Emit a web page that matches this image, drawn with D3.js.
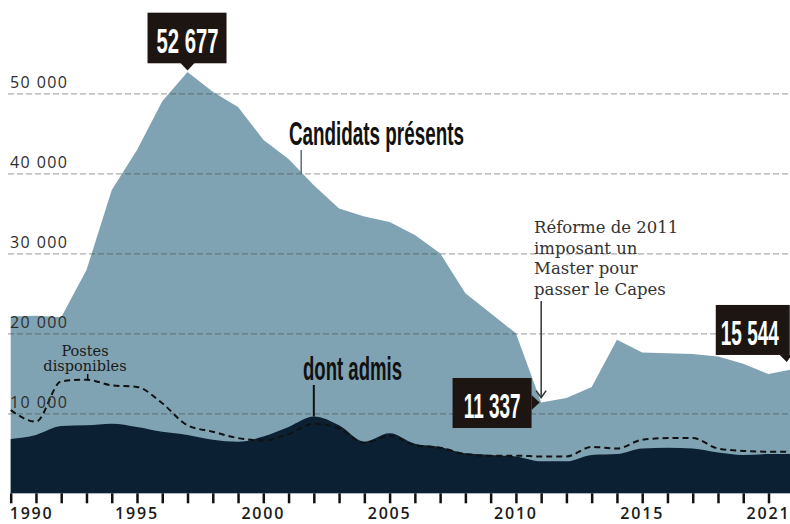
<!DOCTYPE html>
<html>
<head>
<meta charset="utf-8">
<script src="https://cdn.jsdelivr.net/npm/d3@7"></script>
<style>
  body { margin: 0; background: #fff; }
  svg { display: block; }
  .cond { font-family: "Liberation Sans Narrow", "Arial Narrow", sans-serif; font-weight: bold; }
  .serif { font-family: "DejaVu Serif", serif; }
  .sans { font-family: "Open Sans", sans-serif; }
</style>
</head>
<body>
<svg width="790" height="524"></svg>
<script>
const years = [1990, 1991, 1992, 1993, 1994, 1995, 1996, 1997, 1998, 1999,
  2000, 2001, 2002, 2003, 2004, 2005, 2006, 2007, 2008, 2009,
  2010, 2011, 2012, 2013, 2014, 2015, 2016, 2017, 2018, 2019,
  2020, 2021];

// candidats présents
const candidats = [22100, 22200, 22000, 27900, 37900, 42900, 49000, 52677, 50200, 48300,
  44200, 41800, 38500, 35600, 34600, 33900, 32300, 30000, 25000, 22500,
  20000, 11337, 11900, 13300, 19200, 17600, 17500, 17400, 17100, 16200,
  14900, 15544];

// dont admis
const admis = [6800, 7300, 8400, 8500, 8700, 8300, 7700, 7300, 6700, 6450,
  7100, 8300, 9600, 8500, 6450, 7500, 6200, 5800, 5000, 4800,
  4600, 4000, 4000, 4800, 4900, 5600, 5700, 5600, 5100, 4800,
  4900, 4900];

// postes disponibles
const postes = [10400, 8950, 14000, 14200, 13500, 13300, 11250, 8500, 7700, 6900,
  6600, 7400, 8700, 8100, 6300, 7200, 6000, 5700, 4900, 4700,
  4700, 4600, 4600, 5800, 5600, 6700, 6900, 6900, 5600, 5300,
  5200, 5200];

const gridValues = [10000, 20000, 30000, 40000, 50000];
const labelYears = [1990, 1995, 2000, 2005, 2010, 2015, 2020];
const labelTexts = ["1990", "1995", "2000", "2005", "2010", "2015", "2021"];

const svg = d3.select("svg");

const x = d3.scaleLinear().domain([1990, 2020]).range([10.7, 768.5]);
const y = d3.scaleLinear().domain([0, 50000]).range([493.3, 93.3]);

const fr = d3.formatLocale({ decimal: ",", thousands: " ", grouping: [3], currency: ["", " €"] });
const numFormat = fr.format(",");

const area = d3.area()
  .x((d, i) => x(years[i]))
  .y0(y(0))
  .y1(d => y(d));

svg.append("path")
  .datum(candidats)
  .attr("fill", "#80a3b4")
  .attr("d", area.curve(d3.curveLinear));

svg.append("path")
  .datum(admis)
  .attr("fill", "#0b2133")
  .attr("d", area.curve(d3.curveMonotoneX));

const line = d3.line()
  .x((d, i) => x(years[i]))
  .y(d => y(d))
  .curve(d3.curveMonotoneX);

svg.append("path")
  .datum(postes)
  .attr("fill", "none")
  .attr("stroke", "#111")
  .attr("stroke-width", 2)
  .attr("stroke-dasharray", "6,4")
  .attr("d", line);

// gridlines
const grid = svg.append("g")
  .attr("transform", "translate(8,0)")
  .call(d3.axisRight(y).tickValues(gridValues).tickSize(782).tickFormat(""));
grid.select(".domain").remove();
grid.selectAll("line")
  .attr("stroke", "#444")
  .attr("stroke-opacity", 0.45)
  .attr("stroke-width", 1.2)
  .attr("stroke-dasharray", "6,3");

// y labels
svg.append("g")
  .selectAll("text")
  .data(gridValues)
  .enter()
  .append("text")
  .attr("class", "sans")
  .attr("x", 10)
  .attr("y", d => y(d) - 5)
  .attr("font-size", 16)
  .attr("letter-spacing", 1.4)
  .attr("fill", "#2e2e2e")
  .text(d => numFormat(d));

// x ticks
const xAxis = svg.append("g")
  .attr("transform", "translate(0," + y(0) + ")")
  .call(d3.axisBottom(x).tickValues(years).tickSize(10).tickFormat(""));
xAxis.select(".domain").remove();
xAxis.selectAll("line")
  .attr("stroke", "#111")
  .attr("stroke-width", 2.5);

svg.append("g")
  .selectAll("text")
  .data(labelYears)
  .enter()
  .append("text")
  .attr("class", "sans")
  .attr("x", (d, i) => (i === 0 ? x(d) - 1 : x(d)))
  .attr("y", 519)
  .attr("text-anchor", (d, i) => (i === 0 ? "start" : "middle"))
  .attr("font-size", 16)
  .attr("font-weight", 600)
  .attr("letter-spacing", 1.8)
  .attr("fill", "#1a1a1a")
  .text((d, i) => labelTexts[i]);

// condensed text: squeeze horizontally to a given width
function squeezed(parent, str, cx, baseline, size, len, anchor, color) {
  const t = parent.append("text")
    .attr("class", "cond")
    .attr("text-anchor", anchor)
    .attr("font-size", size)
    .attr("fill", color)
    .text(str);
  const w = t.node().getComputedTextLength();
  t.attr("transform", "translate(" + cx + "," + baseline + ") scale(" + (len / w) + ",1)");
  return t;
}

// value boxes
function valueBox(year, value, box, tri, textX, textY, len) {
  const px = x(year), py = y(value);
  const g = svg.append("g");
  g.append("rect")
    .attr("x", px + box[0])
    .attr("y", py + box[1])
    .attr("width", box[2])
    .attr("height", box[3])
    .attr("fill", "#1c1512");
  g.append("path")
    .attr("d", "M" + tri.map(p => (px + p[0]) + "," + (py + p[1])).join("L") + "Z")
    .attr("fill", "#1c1512");
  squeezed(g, numFormat(value), px + textX, py + textY, 36, len, "middle", "#fff");
}

valueBox(1997, 52677, [-40, -59.2, 79, 50.6], [[-7, -8.8], [7, -8.8], [0, -1.5]], 0, -18.6, 62);
valueBox(2011, 11337, [-88.6, -24.6, 79, 50], [[-9.6, -7.5], [-9.6, 7.5], [-1.5, 0]], -49, 15.7, 57);
valueBox(2021, 15544, [-78, -64, 74, 50], [[-14, -14], [-2, -14], [-7, -7]], -44, -24, 58);

// series labels
squeezed(svg, "Candidats présents", 289, 145, 33, 175, "start", "#111");

svg.append("line")
  .attr("x1", x(2001.5)).attr("x2", x(2001.5))
  .attr("y1", 150).attr("y2", y(40000))
  .attr("stroke", "#4f6f80")
  .attr("stroke-width", 1.5);

squeezed(svg, "dont admis", 303, 380, 33, 99, "start", "#111");

svg.append("line")
  .attr("x1", x(2002)).attr("x2", x(2002))
  .attr("y1", 385).attr("y2", y(9600))
  .attr("stroke", "#111")
  .attr("stroke-width", 2);

const postesLabel = svg.append("text")
  .attr("class", "serif")
  .attr("x", 85)
  .attr("text-anchor", "middle")
  .attr("font-size", 14.5)
  .attr("fill", "#1a1a1a");
postesLabel.append("tspan").attr("x", 85).attr("y", 356).text("Postes");
postesLabel.append("tspan").attr("x", 85).attr("y", 371).text("disponibles");

svg.append("line")
  .attr("x1", 87.7).attr("x2", 87.7)
  .attr("y1", 374).attr("y2", y(14200))
  .attr("stroke", "#111")
  .attr("stroke-width", 1.5);

// reform note
const noteLines = ["Réforme de 2011", "imposant un", "Master pour", "passer le Capes"];
svg.append("g")
  .selectAll("text")
  .data(noteLines)
  .enter()
  .append("text")
  .attr("class", "serif")
  .attr("x", 534)
  .attr("y", (d, i) => 233 + i * 20.5)
  .attr("font-size", 16.5)
  .attr("fill", "#333")
  .text(d => d);

const ax = x(2011), ay = y(11337) - 5;
svg.append("line")
  .attr("x1", ax).attr("x2", ax)
  .attr("y1", 301).attr("y2", ay)
  .attr("stroke", "#333")
  .attr("stroke-width", 1.5);
svg.append("path")
  .attr("d", "M" + (ax - 5) + "," + (ay - 7) + "L" + ax + "," + ay + "L" + (ax + 5) + "," + (ay - 7))
  .attr("fill", "none")
  .attr("stroke", "#333")
  .attr("stroke-width", 1.5);
</script>
</body>
</html>
